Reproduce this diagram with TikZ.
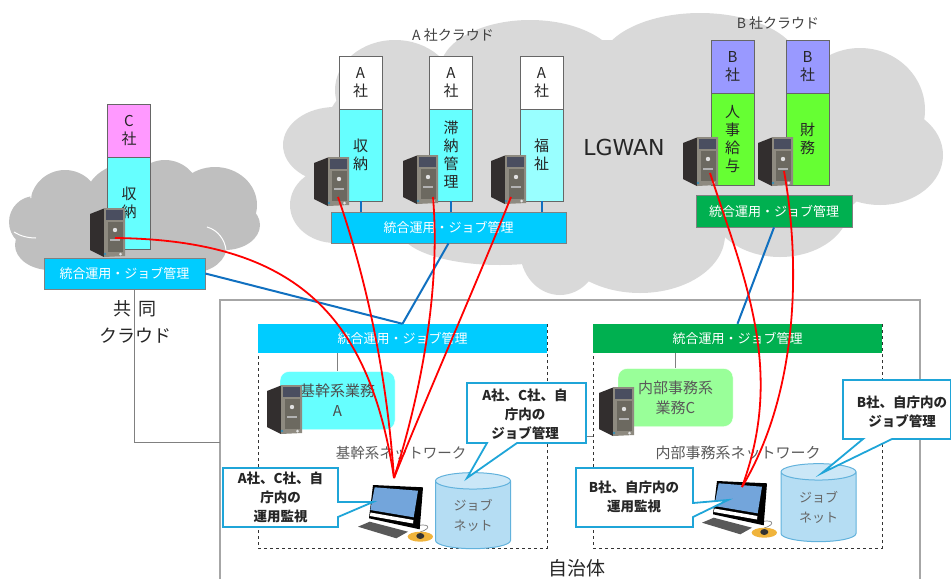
\documentclass[tikz,border=0pt]{standalone}
\usepackage{fontspec}
\setmainfont{Noto Sans CJK JP}
\newfontfamily\latinwide{DejaVu Sans}
\usetikzlibrary{shapes.geometric}

\definecolor{cloudbig}{HTML}{D9D9D9}
\definecolor{cloudsmall}{HTML}{BFBFBF}
\definecolor{jobblue}{HTML}{00CCFF}
\definecolor{jobgreen}{HTML}{00B050}
\definecolor{linkblue}{HTML}{1070C0}
\definecolor{notecyan}{HTML}{1FA5D8}
\definecolor{drumfill}{HTML}{B5DDF3}
\definecolor{drumtop}{HTML}{CBE7F7}
\definecolor{drumline}{HTML}{62B2DC}
\definecolor{bizcyan}{HTML}{66FFFF}
\definecolor{bizpale}{HTML}{99FFFF}
\definecolor{bizlime}{HTML}{66FF33}
\definecolor{bizgreen}{HTML}{99FF99}
\definecolor{tagpink}{HTML}{FF99FF}
\definecolor{tagblue}{HTML}{9999FF}
\definecolor{srvfront}{HTML}{8E8A80}
\definecolor{srvpanel}{HTML}{4A4E60}
\definecolor{srvgrill}{HTML}{6C6960}
\definecolor{srvside}{HTML}{322E2E}
\definecolor{screenblue}{HTML}{73A5DB}
\definecolor{padorange}{HTML}{F0B43C}

\tikzset{
 pillar/.style={draw=black!60, line width=0.8pt, minimum width=43pt, inner sep=0pt, align=center, text=black!85, font=\fontsize{15}{18}\selectfont},
 jobbox/.style={draw=black!50, line width=0.8pt, text=white, inner sep=0pt, font=\fontsize{13}{16}\selectfont},
 jobbar/.style={text=white, inner sep=0pt, minimum width=289pt, minimum height=29pt, font=\fontsize{13}{16}\selectfont},
 netframe/.style={draw=black!80, dashed, line width=0.9pt, minimum width=289pt, minimum height=224pt},
 bizbox/.style={rounded corners=9pt, draw=white, minimum width=115pt, minimum height=58pt, align=center, text=black!70, inner sep=0pt, font=\fontsize{15}{20}\selectfont},
 thinlink/.style={draw=black!50, line width=0.9pt},
 bluelink/.style={draw=linkblue, line width=2pt},
 redlink/.style={draw=red, line width=1.8pt},
 notebox/.style={draw=notecyan, fill=white, line width=1.8pt, line join=miter},
 notetext/.style={align=center, inner sep=0pt, text=black!85, font=\fontsize{13.5}{19}\selectfont\bfseries},
 drum/.style={cylinder, shape border rotate=90, draw=drumline, line width=1pt, cylinder uses custom fill, cylinder body fill=drumfill, cylinder end fill=drumtop, aspect=0.42, inner sep=0pt, minimum width=75pt, align=center, text=black!60, font=\fontsize{13}{20}\selectfont},
 plainlabel/.style={inner sep=0pt, text=black!75},
 server/.pic={
  \fill[srvside] (0,6) -- (14,0.5) -- (14,49) -- (0,42) -- cycle;
  \fill[srvfront] (14,0) -- (35,0) -- (35,48) -- (14,49) -- cycle;
  \fill[srvpanel] (16,2) -- (33,2) -- (33,12) -- (16,12) -- cycle;
  \fill[srvgrill] (18,14) -- (33,14) -- (33,44) -- (18,44) -- cycle;
  \fill[black!12] (25,22) circle (2.2);
  \fill[black!30] (20,31) -- (30,31) -- (30,33) -- (20,33) -- cycle;
  \fill[cyan!70!black] (15,46) circle (1.3);
  \fill[black!10] (30.5,46) circle (1.5);
 },
 desktop/.pic={
  \draw[black!50, line width=0.7pt] (40,41.7) .. controls (56,37) and (60,43) .. (47.3,47);
  \fill[black!65] (-15,41.7) -- (-3.3,36.7) -- (35,46.7) -- (23.3,53.3) -- cycle;
  \fill[padorange] (47.3,51.7) ellipse [x radius=12.7, y radius=5];
  \fill[black!80] (47.3,51) ellipse [x radius=4, y radius=3];
  \fill[black] (0,0) -- (50,2.3) -- (46.7,44.3) -- (-4,33.3) -- cycle;
  \fill[screenblue] (1.7,2.3) -- (45,5.7) -- (40.7,32.3) -- (-2.7,25) -- cycle;
  \fill[white] (-2.6,27.5) -- (40.4,35) -- (40,38.5) -- (-3,31) -- cycle;
 },
}

\begin{document}
\begin{tikzpicture}[x=1pt, y=-1pt]
 \useasboundingbox (0,0) rectangle (951,579);

 % clouds
 \fill[cloudbig] (335,145) ellipse [x radius=52, y radius=38]
  (335,205) ellipse [x radius=45, y radius=38]
  (395,90) ellipse [x radius=60, y radius=50]
  (420,150) ellipse [x radius=100, y radius=90]
  (530,70) ellipse [x radius=90, y radius=50]
  (700,65) ellipse [x radius=100, y radius=52]
  (600,150) ellipse [x radius=200, y radius=110]
  (780,150) ellipse [x radius=100, y radius=80]
  (860,110) ellipse [x radius=65, y radius=62]
  (880,155) ellipse [x radius=63, y radius=50]
  (780,205) ellipse [x radius=70, y radius=52]
  (640,235) ellipse [x radius=85, y radius=58]
  (500,230) ellipse [x radius=100, y radius=35]
  (560,250) ellipse [x radius=40, y radius=45];
 \fill[cloudsmall] (35,222) ellipse [x radius=26, y radius=26]
  (65,205) ellipse [x radius=35, y radius=35]
  (130,200) ellipse [x radius=45, y radius=37]
  (165,195) ellipse [x radius=35, y radius=35]
  (215,205) ellipse [x radius=42, y radius=38]
  (225,225) ellipse [x radius=35, y radius=25]
  (50,245) ellipse [x radius=35, y radius=25]
  (195,245) ellipse [x radius=32, y radius=27]
  (120,235) ellipse [x radius=90, y radius=30];
 \draw[white, line width=1pt] (207,227) .. controls (218,230) and (225,240) .. (226,250);
 \draw[white, line width=1pt] (14,232) .. controls (20,236) and (28,238) .. (36,238);
 \draw[white, line width=1pt] (31,198) .. controls (30,190) and (32,182) .. (36,177);

 % cloud labels
 \node[plainlabel, font=\fontsize{14}{16}\selectfont] (cloudA) at (453,35) {A 社クラウド};
 \node[plainlabel, font=\fontsize{14}{16}\selectfont] (cloudB) at (778,23) {B 社クラウド};
 \node[plainlabel, text=black!85, font=\latinwide\fontsize{22}{24}\selectfont] (lgwan) at (624,147) {LGWAN};

 % local government frame
 \draw[draw=black!35, line width=1.2pt] (220,579) -- (220,300) -- (920,300) -- (920,579);
 \node[netframe] (netA) at (402.5,436) {};
 \node[netframe] (netB) at (737.5,436) {};

 % thin links
 \coordinate (cornerC) at (134,442);
 \coordinate (cityW) at (220,442);
 \draw[thinlink] (cornerC |- 0,289) -- (cornerC) -- (cityW);
 \draw[thinlink] (netA.east) -- (netB.west);

 % C company
 \node[pillar, fill=tagpink, minimum height=53pt] (topC) at (129,130.5) {C\\社};
 \node[pillar, fill=bizcyan, minimum height=92pt] (lowC) at (129,203) {収\\納};
 \node[jobbox, fill=jobblue, minimum width=161pt, minimum height=31pt] (jobC) at (124.5,273.5) {統合運用・ジョブ管理};

 % A company
 \node[pillar, fill=white, minimum height=53pt] (topA1) at (360.5,82.5) {A\\社};
 \node[pillar, fill=white, minimum height=53pt] (topA2) at (451,82.5) {A\\社};
 \node[pillar, fill=white, minimum height=53pt] (topA3) at (541.5,82.5) {A\\社};
 \node[pillar, fill=bizcyan, minimum height=92pt] (lowA1) at (360.5,155) {収\\納};
 \node[pillar, fill=bizcyan, minimum height=92pt] (lowA2) at (451,155) {滞\\納\\管\\理};
 \node[pillar, fill=bizpale, minimum height=92pt] (lowA3) at (541.5,155) {福\\祉};
 \node[jobbox, fill=jobblue, minimum width=235pt, minimum height=31pt] (jobA) at (448.5,227.5) {統合運用・ジョブ管理};
 \draw[bluelink] (lowA1.south) -- (lowA1.south |- jobA.north);
 \draw[bluelink] (lowA2.south) -- (lowA2.south |- jobA.north);
 \draw[bluelink] (lowA3.south) -- (lowA3.south |- jobA.north);

 % B company
 \node[pillar, fill=tagblue, minimum height=53pt] (topB1) at (732.5,66.5) {B\\社};
 \node[pillar, fill=tagblue, minimum height=53pt] (topB2) at (807.5,66.5) {B\\社};
 \node[pillar, fill=bizlime, minimum height=92pt] (lowB1) at (732.5,139) {人\\事\\給\\与};
 \node[pillar, fill=bizlime, minimum height=92pt] (lowB2) at (807.5,139) {財\\務};
 \node[jobbox, fill=jobgreen, minimum width=156pt, minimum height=32pt] (jobB) at (774,211) {統合運用・ジョブ管理};

 % servers
 \pic at (90,208) {server};
 \pic at (314,157) {server};
 \pic at (403,155) {server};
 \pic at (491,155) {server};
 \pic at (683,137) {server};
 \pic at (758,137) {server};

 % network A
 \node[jobbar, fill=jobblue] (barA) at (402.5,338.5) {統合運用・ジョブ管理};
 \node[bizbox, fill=bizcyan] (bizA) at (337.5,400.5) {基幹系業務\\A};
 \draw[thinlink] (bizA.north |- barA.south) -- (bizA.north);
 \pic at (267,385) {server};
 \node[plainlabel, text=black!65, font=\fontsize{14.5}{16}\selectfont] (labelA) at (401,453) {基幹系ネットワーク};
 \pic at (373,485) {desktop};
 \node[drum, minimum height=76pt] (drumA) at (473,515) {ジョブ\\ネット};

 % network B
 \node[jobbar, fill=jobgreen] (barB) at (737.5,338.5) {統合運用・ジョブ管理};
 \node[bizbox, fill=bizgreen, text=black!65] (bizB) at (675.5,397.5) {内部事務系\\業務C};
 \draw[thinlink] (bizB.north |- barB.south) -- (bizB.north);
 \pic at (599,387) {server};
 \node[plainlabel, text=black!65, font=\fontsize{15}{16}\selectfont] (labelB) at (738,453) {内部事務系ネットワーク};
 \pic at (717,481) {desktop};
 \node[drum, minimum height=78pt] (drumB) at (818.5,507) {ジョブ\\ネット};

 % blue links
 \draw[bluelink] (jobC.east) -- (barA.north);
 \draw[bluelink] (jobA.south) -- (barA.north);
 \draw[bluelink] (jobB.south) -- (barB.north);

 % red links
 \coordinate (portC) at (115,238);
 \coordinate (portA1) at (338,197);
 \coordinate (portA2) at (433,197);
 \coordinate (portA3) at (511,197);
 \coordinate (portB1) at (710,173);
 \coordinate (portB2) at (784,171);
 \coordinate (tipA) at (394,478);
 \coordinate (tipB) at (742,487);
 \draw[redlink] (portC) .. controls (300,240) and (370,320) .. (tipA);
 \draw[redlink] (portA1) .. controls (358,255) and (385,350) .. (tipA);
 \draw[redlink] (portA2) .. controls (440,280) and (425,380) .. (tipA);
 \draw[redlink] (portA3) .. controls (478,280) and (425,400) .. (tipA);
 \draw[redlink] (portB1) .. controls (745,280) and (785,370) .. (tipB);
 \draw[redlink] (portB2) .. controls (800,260) and (800,390) .. (tipB);

 % notes
 \draw[notebox] (223,468) -- (338,468) -- (338,502) -- (373,502) -- (338,517) -- (338,527) -- (223,527) -- cycle;
 \node[notetext] (noteA1) at (280.5,497.5) {A社、C社、自\\庁内の\\運用監視};
 \draw[notebox] (467,383) -- (586,383) -- (586,443) -- (517,443) -- (467,478) -- (487,443) -- (467,443) -- cycle;
 \node[notetext] (noteA2) at (525,414) {A社、C社、自\\庁内の\\ジョブ管理};
 \draw[notebox] (576,468) -- (693,468) -- (693,503) -- (728,500) -- (693,517) -- (693,527) -- (576,527) -- cycle;
 \node[notetext] (noteB1) at (634,497) {B社、自庁内の\\運用監視};
 \draw[notebox] (843,380) -- (951,380) -- (951,439) -- (892,439) -- (822,473) -- (863,439) -- (843,439) -- cycle;
 \node[notetext] (noteB2) at (902,412) {B社、自庁内の\\ジョブ管理};

 % place labels
 \node[plainlabel, align=center, text=black!85, font=\fontsize{18}{27}\selectfont] (shared) at (135,322) {共\hspace{7pt}同\\クラウド};
 \node[plainlabel, text=black!85, font=\fontsize{19}{22}\selectfont] (city) at (577,568) {自治体};
\end{tikzpicture}
\end{document}
